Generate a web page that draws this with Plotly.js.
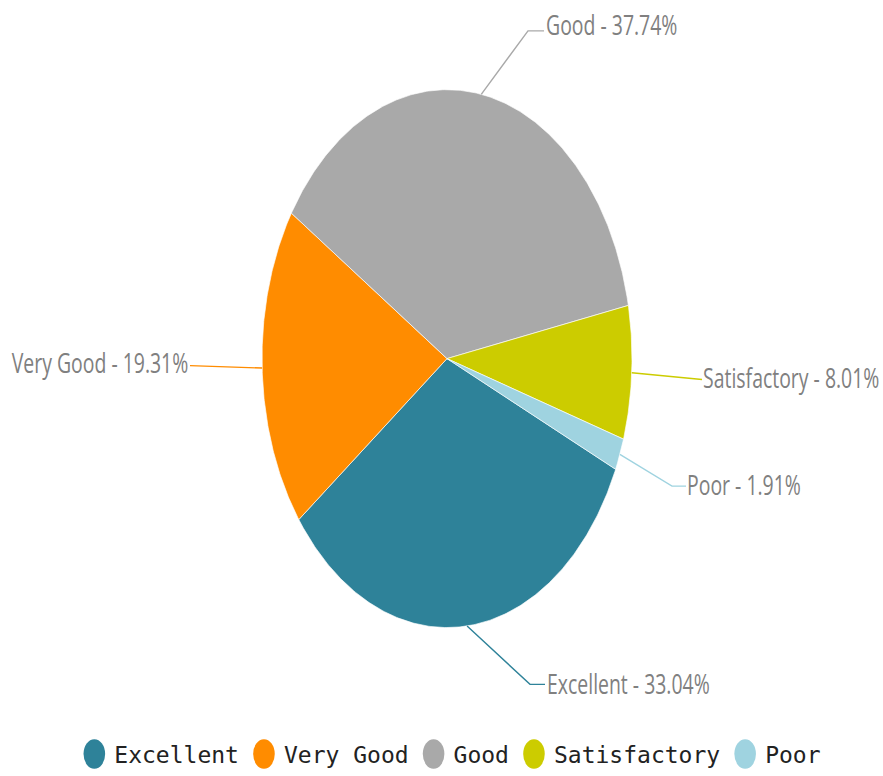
<!DOCTYPE html>
<html><head><meta charset="utf-8">
<script src="https://cdn.plot.ly/plotly-3.0.1.min.js"></script>
<style>html,body{margin:0;padding:0;background:#fff}#chart{width:883px;height:776px}</style>
</head><body><div id="chart"></div>
<script>
// ---- data ----
const categories = ['Excellent', 'Very Good', 'Good', 'Satisfactory', 'Poor'];
const percents = [33.04, 19.31, 37.74, 8.01, 1.91];
const colors = ['#2e8299', '#ff8c00', '#a9a9a9', '#cccc00', '#9fd3e0'];

// ---- layout constants (pixels in the 883x776 frame) ----
const W = 883, H = 776;
const CX = 447, CY = 360, RX = 185, RY = 270;
const SQUEEZE = 0.72; // the chart's text is horizontally compressed
const startAngle = -24.3; // first slice start, degrees, slices run clockwise
const px2x = p => (p - CX) / RX;
const py2y = p => (CY - p) / RY;
// leader line elbows / ends and label anchors, per category (pixels)
const labelLayout = [
  {elbow: [530, 687], end: [545, 687], tx: 545, ty: 686, anchor: 'left'},
  {elbow: null,       end: [190, 367], tx: 190, ty: 364, anchor: 'right'},
  {elbow: [528, 31],  end: [544, 31],  tx: 544, ty: 25,  anchor: 'left'},
  {elbow: null,       end: [702, 381], tx: 701, ty: 379, anchor: 'left'},
  {elbow: [672, 488], end: [686, 488], tx: 685, ty: 486, anchor: 'left'}
];

const total = percents.reduce((a, b) => a + b, 0);
const traces = [];
const annotations = [];
let a0 = startAngle;
percents.forEach((v, i) => {
  const span = v / total * 360;
  const a1 = a0 - span;
  const n = Math.max(4, Math.ceil(span * 2));
  const xs = [0], ys = [0];
  for (let k = 0; k <= n; k++) {
    const t = (a0 + (a1 - a0) * k / n) * Math.PI / 180;
    xs.push(Math.cos(t)); ys.push(Math.sin(t));
  }
  xs.push(0); ys.push(0);
  traces.push({
    type: 'scatter', mode: 'lines', x: xs, y: ys, fill: 'toself',
    fillcolor: colors[i], line: {color: 'rgba(255,255,255,0.8)', width: 0.8},
    name: categories[i], showlegend: false, hoverinfo: 'name'
  });
  // leader line from slice mid-angle edge
  const mid = (a0 + a1) / 2 * Math.PI / 180;
  const L = labelLayout[i];
  const lx = [Math.cos(mid)], ly = [Math.sin(mid)];
  if (L.elbow) { lx.push(px2x(L.elbow[0])); ly.push(py2y(L.elbow[1])); }
  lx.push(px2x(L.end[0])); ly.push(py2y(L.end[1]));
  traces.push({
    type: 'scatter', mode: 'lines', x: lx, y: ly,
    line: {color: colors[i], width: 1.4}, showlegend: false, hoverinfo: 'skip'
  });
  annotations.push({
    xref: 'x', yref: 'y', x: px2x(L.tx), y: py2y(L.ty),
    text: categories[i] + ' - ' + v.toFixed(2) + '%', showarrow: false,
    xanchor: L.anchor, yanchor: 'middle',
    font: {family: '"Open Sans", "Noto Sans", sans-serif', size: 27, color: '#808080'}
  });
  a0 = a1;
});
// legend entries
categories.forEach((c, i) => {
  traces.push({
    type: 'scatter', mode: 'markers', x: [null], y: [null], name: c,
    marker: {color: colors[i], size: 16, symbol: 'circle'}, showlegend: true
  });
});

const layout = {
  width: W, height: H,
  margin: {l: 0, r: 0, t: 0, b: 0},
  paper_bgcolor: '#fff', plot_bgcolor: '#fff',
  xaxis: {range: [px2x(0), px2x(W)], visible: false, fixedrange: true},
  yaxis: {range: [py2y(H), py2y(0)], visible: false, fixedrange: true},
  showlegend: true,
  legend: {
    orientation: 'h', x: 0.51, xanchor: 'center', y: (H - 757) / H, yanchor: 'middle',
    font: {family: '"DejaVu Sans Mono", monospace', size: 23, color: '#222'},
    itemclick: false, itemdoubleclick: false, traceorder: 'normal'
  },
  annotations: annotations
};
Plotly.newPlot('chart', traces, layout, {displayModeBar: false, staticPlot: true}).then(gd => {
  // horizontally compress the slice labels like the reference
  gd.querySelectorAll('.annotation-text').forEach((t, i) => {
    const a = annotations[i];
    t.style.transformBox = 'fill-box';
    t.style.transformOrigin = (a && a.xanchor === 'right' ? 'right' : 'left') + ' center';
    t.style.transform = 'scaleX(' + SQUEEZE + ')';
  });
  // legend bullets are compressed ellipses in the reference
  gd.querySelectorAll('.legend .legendpoints').forEach(g => {
    g.style.transformBox = 'fill-box';
    g.style.transformOrigin = 'center';
    g.style.transform = 'scale(1.35,1.85)';
  });
});
</script></body></html>
